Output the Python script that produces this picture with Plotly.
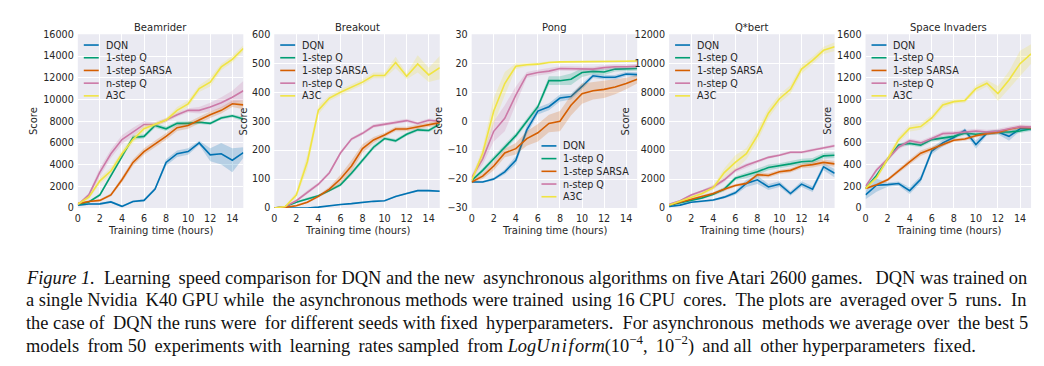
import plotly.graph_objects as go

# ---------------- data ----------------
HOURS = list(range(16))
SERIES = ["DQN", "1-step Q", "1-step SARSA", "n-step Q", "A3C"]
COLORS = ["#0072B2", "#009E73", "#D55E00", "#CC79A7", "#F0E442"]
GAMES = ["Beamrider", "Breakout", "Pong", "Q*bert", "Space Invaders"]
X_TICKS = [0, 2, 4, 6, 8, 10, 12, 14]

# Beamrider (means and half-width of shaded band)
beamrider_dqn = [250, 370, 380, 560, 150, 600, 700, 1750, 4200, 5000, 5200, 6000, 4900, 5000, 4400, 5100]
beamrider_q1 = [300, 550, 1200, 3000, 4800, 6500, 6600, 7600, 7300, 7800, 7800, 7900, 7800, 8300, 8500, 8200]
beamrider_sarsa = [400, 600, 700, 1200, 2600, 4200, 5200, 5900, 6600, 7400, 7600, 8100, 8600, 9000, 9600, 9500]
beamrider_nq = [300, 1200, 3300, 5000, 6300, 7000, 7700, 7700, 8100, 8600, 9000, 9000, 9300, 9700, 10200, 10800]
beamrider_a3c = [350, 1000, 2500, 3400, 5000, 6300, 7300, 7700, 8100, 9000, 9600, 11000, 11600, 13000, 13700, 14700]
beamrider_dqn_sd = [100, 100, 100, 100, 100, 100, 100, 150, 300, 300, 300, 200, 600, 1000, 1100, 500]
beamrider_q1_sd = [100, 100, 150, 200, 200, 200, 200, 200, 200, 200, 200, 150, 150, 150, 150, 200]
beamrider_sarsa_sd = [100, 100, 100, 150, 250, 300, 300, 300, 300, 300, 300, 300, 300, 300, 300, 400]
beamrider_nq_sd = [100, 200, 400, 400, 400, 400, 300, 200, 200, 200, 200, 300, 400, 500, 600, 900]
beamrider_a3c_sd = [100, 200, 300, 300, 300, 300, 300, 200, 200, 300, 300, 300, 400, 300, 300, 300]

# Breakout
breakout_dqn = [0, 0, 0, 0, 3, 8, 12, 15, 20, 23, 25, 40, 50, 60, 60, 58]
breakout_q1 = [0, 5, 20, 32, 42, 60, 80, 120, 165, 210, 240, 232, 255, 270, 268, 290]
breakout_sarsa = [0, 2, 8, 20, 40, 65, 100, 145, 205, 235, 252, 273, 273, 280, 288, 295]
breakout_nq = [0, 5, 25, 55, 82, 122, 190, 238, 258, 283, 290, 296, 302, 292, 303, 300]
breakout_a3c = [0, 5, 45, 160, 338, 380, 400, 418, 435, 458, 458, 503, 455, 498, 460, 485]
breakout_dqn_sd = [0, 0, 0, 0, 1, 1, 2, 2, 2, 2, 2, 3, 3, 3, 3, 3]
breakout_q1_sd = [1, 2, 3, 4, 4, 5, 6, 8, 8, 8, 6, 6, 6, 6, 6, 6]
breakout_sarsa_sd = [1, 2, 3, 4, 5, 8, 15, 20, 15, 10, 8, 8, 8, 8, 8, 8]
breakout_nq_sd = [1, 2, 4, 6, 6, 6, 6, 6, 6, 6, 6, 6, 6, 6, 6, 6]
breakout_a3c_sd = [1, 3, 10, 25, 15, 10, 10, 10, 10, 10, 10, 20, 10, 30, 25, 40]

# Pong
pong_dqn = [-21, -21, -20, -17.5, -13.5, -3, 3.5, 5, 8, 8.5, 12, 15.7, 15.2, 15.2, 16.3, 16.1]
pong_q1 = [-20.5, -17, -13, -9, -5, 0, 5, 14, 14, 14.5, 16.8, 17.2, 17, 18, 18, 18.2]
pong_sarsa = [-21, -19, -15.5, -11, -9.5, -6, -4, -0.8, 0, 5.5, 9.5, 10.5, 11, 11.8, 13, 14.5]
pong_nq = [-19.5, -13, -3.5, 1, 9, 16, 16.8, 17.3, 18.2, 18.2, 18, 18, 18.5, 18.8, 18.8, 19]
pong_a3c = [-20.5, -11, 3.5, 13, 19, 19.5, 19.7, 20.3, 20.5, 20.5, 20.6, 20.6, 20.6, 20.6, 20.7, 20.8]
pong_dqn_sd = [0.3, 0.3, 0.5, 0.8, 1.5, 1.5, 1.2, 1.2, 1.2, 1, 1, 0.8, 0.8, 0.8, 0.8, 0.8]
pong_q1_sd = [0.5, 0.8, 1, 1, 1, 1, 1, 1.5, 1.5, 2, 1.5, 1, 1, 0.8, 0.8, 0.8]
pong_sarsa_sd = [0.5, 1, 1.5, 1.5, 2, 2.5, 3, 3, 3.5, 3.5, 3.5, 3, 3, 2.5, 2, 1.5]
pong_nq_sd = [1, 2, 3.5, 4.5, 3, 1, 1, 1, 0.8, 0.8, 0.8, 0.8, 0.8, 0.8, 0.8, 0.8]
pong_a3c_sd = [0.8, 2, 4.5, 4, 1, 0.6, 0.5, 0.4, 0.3, 0.3, 0.3, 0.3, 0.3, 0.3, 0.3, 0.3]

# Q*bert
qbert_dqn = [100, 200, 400, 450, 550, 750, 1050, 1700, 1950, 1450, 1650, 1000, 1650, 1300, 2850, 2400]
qbert_q1 = [200, 350, 500, 700, 950, 1300, 2050, 2250, 2500, 2800, 2900, 3050, 3200, 3250, 3600, 3650]
qbert_sarsa = [200, 400, 600, 800, 1000, 1300, 1550, 1700, 2300, 2250, 2500, 2600, 2900, 3000, 3150, 3050]
qbert_nq = [250, 500, 900, 1150, 1450, 1950, 2600, 2950, 3200, 3500, 3650, 3850, 3850, 4000, 4150, 4300]
qbert_a3c = [200, 450, 750, 1000, 1400, 2450, 3150, 3750, 5000, 6550, 7550, 8200, 9600, 10200, 10900, 11150]
qbert_dqn_sd = [50, 50, 50, 50, 80, 100, 150, 250, 300, 200, 200, 150, 200, 200, 250, 300]
qbert_q1_sd = [50, 50, 50, 80, 100, 150, 150, 200, 200, 200, 200, 200, 200, 200, 200, 200]
qbert_sarsa_sd = [50, 50, 50, 80, 100, 100, 100, 100, 150, 150, 150, 150, 150, 200, 200, 200]
qbert_nq_sd = [50, 60, 80, 100, 150, 150, 150, 150, 100, 100, 100, 100, 100, 100, 100, 100]
qbert_a3c_sd = [50, 60, 80, 100, 150, 300, 500, 400, 400, 350, 300, 300, 300, 250, 250, 300]

# Space Invaders
si_dqn = [120, 210, 215, 225, 160, 265, 525, 600, 650, 715, 585, 690, 700, 660, 730, 730]
si_q1 = [180, 300, 450, 580, 595, 580, 630, 645, 660, 690, 680, 690, 700, 700, 710, 730]
si_sarsa = [180, 215, 260, 345, 425, 505, 545, 585, 625, 635, 665, 685, 695, 725, 745, 740]
si_nq = [200, 350, 450, 560, 620, 600, 640, 685, 690, 700, 710, 700, 710, 730, 750, 745]
si_a3c = [180, 280, 450, 630, 735, 750, 830, 950, 980, 990, 1100, 1150, 1055, 1180, 1330, 1420]
si_dqn_sd = [40, 60, 20, 20, 30, 30, 30, 30, 20, 20, 40, 20, 20, 40, 20, 20]
si_q1_sd = [10, 20, 20, 20, 20, 20, 20, 20, 20, 20, 20, 20, 20, 20, 20, 20]
si_sarsa_sd = [10, 10, 15, 20, 25, 25, 20, 20, 15, 15, 15, 15, 15, 15, 15, 15]
si_nq_sd = [10, 20, 20, 20, 20, 20, 20, 20, 20, 20, 20, 20, 20, 20, 20, 20]
si_a3c_sd = [10, 20, 30, 30, 30, 30, 30, 30, 20, 20, 30, 30, 70, 80, 120, 90]

Y_RANGES = [[0, 16000], [0, 600], [-30, 30], [0, 12000], [0, 1600]]
Y_DTICKS = [2000, 100, 10, 2000, 200]

CAPTION_LINES = [
    "<i>Figure 1.</i>  Learning speed comparison for DQN and the new asynchronous algorithms on five Atari 2600 games.  DQN was trained on",
    "a single Nvidia K40 GPU while the asynchronous methods were trained using 16 CPU cores.  The plots are averaged over 5 runs.  In",
    "the case of DQN the runs were for different seeds with fixed hyperparameters.  For asynchronous methods we average over the best 5",
    "models from 50 experiments with learning rates sampled from <i>LogU\u200an\u200ai\u200af\u200aorm</i>(10<sup>\u22124</sup>, 10<sup>\u22122</sup>) and all other hyperparameters fixed.",
]
CAPTION_EXTRA_SPACES = [3, 6, 5, 9]  # thin spaces added to emulate justified text

MEANS = [
    [beamrider_dqn, beamrider_q1, beamrider_sarsa, beamrider_nq, beamrider_a3c],
    [breakout_dqn, breakout_q1, breakout_sarsa, breakout_nq, breakout_a3c],
    [pong_dqn, pong_q1, pong_sarsa, pong_nq, pong_a3c],
    [qbert_dqn, qbert_q1, qbert_sarsa, qbert_nq, qbert_a3c],
    [si_dqn, si_q1, si_sarsa, si_nq, si_a3c],
]
SPREADS = [
    [beamrider_dqn_sd, beamrider_q1_sd, beamrider_sarsa_sd, beamrider_nq_sd, beamrider_a3c_sd],
    [breakout_dqn_sd, breakout_q1_sd, breakout_sarsa_sd, breakout_nq_sd, breakout_a3c_sd],
    [pong_dqn_sd, pong_q1_sd, pong_sarsa_sd, pong_nq_sd, pong_a3c_sd],
    [qbert_dqn_sd, qbert_q1_sd, qbert_sarsa_sd, qbert_nq_sd, qbert_a3c_sd],
    [si_dqn_sd, si_q1_sd, si_sarsa_sd, si_nq_sd, si_a3c_sd],
]

# ---------------- layout geometry (pixels) ----------------
W, H = 1044, 366
PLOT_LEFT = [67, 264, 462, 660, 857]
PLOT_W = 166
PLOT_TOP, PLOT_BOTTOM = 21, 200
YLABEL_X = [22, 233, 428, 616, 819]
LEGEND_POS = [(6, 32), (6, 32), (70, 136), (6, 32), (6, 32)]  # offset from plot left, first row y
TXT = "#262626"
FONT = "DejaVu Sans"


def px(x):
    return x / W


def py(y):
    return 1 - y / H


def rgba(hexc, a):
    h = hexc.lstrip("#")
    return f"rgba({int(h[0:2],16)},{int(h[2:4],16)},{int(h[4:6],16)},{a})"


def spread_spaces(line, n):
    """Insert n thin spaces evenly across word gaps (cheap justification)."""
    if n <= 0:
        return line
    words = line.split(" ")
    gaps = len(words) - 1
    out = words[0]
    placed = 0
    for i in range(1, len(words)):
        target = round(i * n / gaps)
        extra = "\u2009" * (target - placed)
        placed = target
        out += " " + extra + words[i]
    return out


fig = go.Figure()
shapes = []
annotations = []

for gi, game in enumerate(GAMES):
    ax = "" if gi == 0 else str(gi + 1)
    xref, yref = "x" + ax, "y" + ax
    for si, name in enumerate(SERIES):
        m = MEANS[gi][si]
        s = SPREADS[gi][si]
        upper = [a + b for a, b in zip(m, s)]
        lower = [a - b for a, b in zip(m, s)]
        fig.add_trace(go.Scatter(
            x=HOURS + HOURS[::-1], y=upper + lower[::-1], fill="toself",
            fillcolor=rgba(COLORS[si], 0.22), line=dict(width=0), mode="lines",
            hoverinfo="skip", showlegend=False, xaxis=xref, yaxis=yref))
        fig.add_trace(go.Scatter(
            x=HOURS, y=m, mode="lines", name=name,
            line=dict(color=COLORS[si], width=1.6), showlegend=False,
            xaxis=xref, yaxis=yref))

    left = PLOT_LEFT[gi]
    dom_x = [px(left), px(left + PLOT_W)]
    dom_y = [py(PLOT_BOTTOM), py(PLOT_TOP)]
    common = dict(showgrid=True, gridcolor="white", gridwidth=1, zeroline=False,
                  showline=False, ticks="", tickfont=dict(family=FONT, size=9.6, color=TXT))
    fig.layout["xaxis" + ax] = dict(domain=dom_x, range=[0, 15], tickvals=X_TICKS,
                                    anchor=yref, ticklabelstandoff=3, **common)
    fig.layout["yaxis" + ax] = dict(domain=dom_y, range=Y_RANGES[gi], dtick=Y_DTICKS[gi],
                                    tick0=0, anchor=xref, tickformat="d",
                                    ticklabelstandoff=3, **common)
    # plot background
    shapes.append(dict(type="rect", xref="paper", yref="paper", x0=dom_x[0], x1=dom_x[1],
                       y0=dom_y[0], y1=dom_y[1], fillcolor="#EAEAF2", line=dict(width=0),
                       layer="below"))
    # title & axis labels
    cx = px(left + PLOT_W / 2)
    annotations.append(dict(text=game, x=cx, y=py(14), xref="paper", yref="paper",
                            showarrow=False, font=dict(family=FONT, size=10, color=TXT),
                            xanchor="center", yanchor="middle"))
    annotations.append(dict(text="Training time (hours)", x=cx, y=py(223), xref="paper",
                            yref="paper", showarrow=False,
                            font=dict(family=FONT, size=10, color=TXT),
                            xanchor="center", yanchor="middle"))
    annotations.append(dict(text="Score", x=px(YLABEL_X[gi]), y=py((PLOT_TOP + PLOT_BOTTOM) / 2),
                            xref="paper", yref="paper", showarrow=False, textangle=-90,
                            font=dict(family=FONT, size=10, color=TXT),
                            xanchor="center", yanchor="middle"))
    # legend
    ox, oy = LEGEND_POS[gi]
    for si, name in enumerate(SERIES):
        yy = oy + si * 13.1
        shapes.append(dict(type="line", xref="paper", yref="paper",
                           x0=px(left + ox), x1=px(left + ox + 15), y0=py(yy), y1=py(yy),
                           line=dict(color=COLORS[si], width=1.6)))
        annotations.append(dict(text=name, x=px(left + ox + 20), y=py(yy), xref="paper",
                                yref="paper", showarrow=False, xanchor="left", yanchor="middle",
                                font=dict(family=FONT, size=9.6, color=TXT)))

for i, line in enumerate(CAPTION_LINES):
    annotations.append(dict(text=spread_spaces(line, CAPTION_EXTRA_SPACES[i]), x=px(13),
                            y=py(272 + i * 23.2), xref="paper",
                            yref="paper", showarrow=False, xanchor="left", yanchor="middle",
                            font=dict(family="Liberation Serif", size=18.4, color="#111111")))

fig.update_layout(width=W, height=H, margin=dict(l=0, r=0, t=0, b=0),
                  paper_bgcolor="white", plot_bgcolor="rgba(0,0,0,0)",
                  shapes=shapes, annotations=annotations, showlegend=False)

fig.write_html("out.html")
